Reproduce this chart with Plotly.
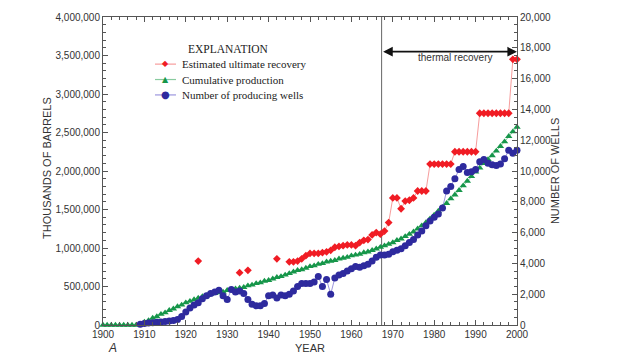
import plotly.graph_objects as go
from plotly.subplots import make_subplots

years = list(range(1900, 2001))

# Cumulative production, millions of thousand barrels
cum_prod_m = [0, 0, 0, 0, 0, 0, 0, 0, 0,
              0.01, 0.04, 0.06, 0.09, 0.11, 0.14, 0.16, 0.19, 0.21, 0.24, 0.26,
              0.29, 0.31, 0.33, 0.35, 0.37, 0.38, 0.40, 0.41, 0.42, 0.43,
              0.45, 0.46, 0.47, 0.48, 0.49, 0.51, 0.52, 0.54, 0.55, 0.57,
              0.58, 0.60, 0.62, 0.63, 0.65, 0.67, 0.69, 0.71, 0.72, 0.74,
              0.76, 0.77, 0.79, 0.80, 0.82, 0.83, 0.84, 0.86, 0.87, 0.88,
              0.90, 0.91, 0.92, 0.94, 0.95, 0.97, 0.99, 1.01, 1.03, 1.05,
              1.07, 1.10, 1.12, 1.15, 1.18, 1.21, 1.25, 1.29, 1.33, 1.38,
              1.43, 1.48, 1.53, 1.58, 1.64, 1.69, 1.75, 1.81, 1.87, 1.93,
              1.99, 2.04, 2.10, 2.15, 2.20, 2.26, 2.32, 2.38, 2.45, 2.51,
              2.57]

# Estimated ultimate recovery (millions of thousand barrels), None = no estimate
eur_m = [None] * 23 + [0.83] + [None] * 9 + [0.68, None, 0.71] + [None] * 6 + [0.86, None, None] + \
        [0.82, 0.82, 0.83, 0.86, 0.90,
         0.93, 0.93, 0.93, 0.94, 0.95, 0.97, 1.01, 1.02, 1.03, 1.04,
         1.04, 1.03, 1.07, 1.10, 1.11, 1.17, 1.20, 1.18, 1.22, 1.33,
         1.65, 1.65, 1.51, 1.61, 1.62, 1.65, 1.74, 1.74, 1.74, 2.09,
         2.09, 2.09, 2.09, 2.09, 2.09, 2.25, 2.25, 2.25, 2.25, 2.25,
         2.25, 2.75, 2.75, 2.75, 2.75, 2.75, 2.75, 2.75, 2.75, 3.45,
         3.45]

# Number of producing wells
wells = [None] * 9 + [
    50, 100, 130, 150, 180, 200, 230, 260, 300, 350, 550,
    850, 1100, 1300, 1450, 1700, 1900, 2050, 2150, 2250, 1900,
    1650, 2300, 2150, 2200, 2050, 1650, 1350, 1250, 1250, 1400,
    1900, 1950, 1750, 1950, 1900, 2000, 2200, 2500, 2700, 2700,
    2700, 2800, 3150, 2500, 2950, 2000, 3050, 3250, 3350, 3500,
    3650, 3800, 3750, 3850, 3950, 4150, 4400, 4550, 4550, 4600,
    4750, 4850, 4950, 5150, 5350, 5550, 5850, 6100, 6450, 6750,
    7000, 7200, 7600, 8700, 9000, 9500, 10100, 10300, 9900, 9950,
    10100, 10600, 10750, 10500, 10400, 10350, 10450, 10800, 11350, 11150,
    11350]

series_names = ["Estimated ultimate recovery", "Cumulative production", "Number of producing wells"]

cum_prod = [v * 1e6 for v in cum_prod_m]
eur = [None if v is None else v * 1e6 for v in eur_m]

thermal_start = 1967.3

RED, RED_L = "#f01c24", "rgba(240,90,90,0.6)"
GRN, GRN_L = "#16964a", "rgba(40,160,80,0.55)"
BLU, BLU_L = "#2e2a9e", "rgba(90,80,200,0.6)"

fig = make_subplots(specs=[[{"secondary_y": True}]])

fig.add_trace(go.Scatter(
    x=years, y=cum_prod, name=series_names[1], mode="lines+markers",
    line=dict(color=GRN_L, width=1),
    marker=dict(symbol="triangle-up", size=6.5, color=GRN),
    cliponaxis=False, showlegend=False), secondary_y=False)

fig.add_trace(go.Scatter(
    x=years, y=eur, name=series_names[0], mode="lines+markers",
    line=dict(color=RED_L, width=1),
    marker=dict(symbol="diamond", size=6, color=RED),
    connectgaps=False, cliponaxis=False, showlegend=False), secondary_y=False)

fig.add_trace(go.Scatter(
    x=years, y=wells, name=series_names[2], mode="lines+markers",
    line=dict(color=BLU_L, width=1),
    marker=dict(symbol="circle", size=7, color=BLU),
    cliponaxis=False, showlegend=False), secondary_y=True)

tick_font = dict(family="Liberation Sans, Arial", size=10, color="#333")
axis_line = "#555"

fig.update_xaxes(
    domain=[0, 1],
    range=[1900, 2000], tickmode="array", tickvals=list(range(1900, 2001, 10)),
    ticks="inside", ticklen=5, tickcolor=axis_line,
    minor=dict(tickmode="array", tickvals=list(range(1900, 2001, 2)), ticks="inside", ticklen=3, tickcolor=axis_line),
    showline=True, linecolor=axis_line, linewidth=1, mirror="ticks",
    showgrid=False, zeroline=False, tickfont=tick_font, automargin=False)

fig.update_yaxes(
    range=[0, 4e6], dtick=5e5, tick0=0, tickformat=",d",
    ticks="inside", ticklen=5, tickcolor=axis_line,
    minor=dict(dtick=1e5, tick0=0, ticks="inside", ticklen=3, tickcolor=axis_line),
    showline=True, linecolor=axis_line, linewidth=1,
    showgrid=False, zeroline=False, tickfont=tick_font, automargin=False, secondary_y=False)

fig.update_yaxes(
    range=[0, 20000], dtick=2000, tick0=0, tickformat=",d",
    ticks="inside", ticklen=5, tickcolor=axis_line,
    minor=dict(dtick=500, tick0=0, ticks="inside", ticklen=3, tickcolor=axis_line),
    showline=True, linecolor=axis_line, linewidth=1,
    showgrid=False, zeroline=False, tickfont=tick_font, automargin=False, secondary_y=True)

fig.add_shape(type="line", x0=thermal_start, x1=thermal_start, y0=0, y1=1,
              xref="x", yref="paper", line=dict(color="#666", width=1), layer="below")

fig.add_annotation(x=2000, y=3.55e6, ax=thermal_start, ay=3.55e6, xref="x", yref="y",
                   axref="x", ayref="y", text="", showarrow=True, arrowhead=2,
                   startarrowhead=2, arrowside="end+start", arrowwidth=1.6,
                   arrowsize=1.2, startarrowsize=1.2, arrowcolor="#111")
fig.add_annotation(x=1985, y=3.47e6, xref="x", yref="y", text="thermal recovery",
                   xanchor="center", yanchor="middle",
                   showarrow=False, font=dict(family="Liberation Sans, Arial", size=10, color="#333"))

title_font = dict(family="Liberation Sans, Arial", size=11, color="#333")
fig.add_annotation(x=-0.135, y=0.51, xref="paper", yref="paper", text="THOUSANDS OF BARRELS",
                   xanchor="center", yanchor="middle",
                   textangle=-90, showarrow=False, font=title_font)
fig.add_annotation(x=1.092, y=0.50, xref="paper", yref="paper", text="NUMBER OF WELLS",
                   xanchor="center", yanchor="middle",
                   textangle=-90, showarrow=False, font=title_font)
fig.add_annotation(x=0.5, y=-0.075, xref="paper", yref="paper", text="YEAR",
                   xanchor="center", yanchor="middle",
                   showarrow=False, font=title_font)
fig.add_annotation(x=0.024, y=-0.075, xref="paper", yref="paper", text="<i>A</i>",
                   xanchor="center", yanchor="middle",
                   showarrow=False, font=dict(family="Liberation Sans, Arial", size=12, color="#333"))

# Manual legend ("EXPLANATION")
serif = "Liberation Serif, Times New Roman"
fig.add_annotation(x=0.3043, y=0.896, xref="paper", yref="paper", text="EXPLANATION",
                   xanchor="center", yanchor="middle",
                   showarrow=False, font=dict(family=serif, size=11.5, color="#222"))
leg_rows = [(0.847, RED, RED_L, "◆", 8), (0.797, GRN, GRN_L, "▲", 8), (0.747, BLU, BLU_L, "●", 10)]
for (yy, c, cl, glyph, gs), name in zip(leg_rows, series_names):
    fig.add_shape(type="line", xref="paper", yref="paper", x0=0.1256, x1=0.1763, y0=yy, y1=yy,
                  line=dict(color=cl, width=1.2))
    fig.add_annotation(x=0.151, y=yy, xref="paper", yref="paper", text=glyph, showarrow=False,
                       xanchor="center", yanchor="middle",
                       font=dict(family="DejaVu Sans", size=gs, color=c), yshift=0.5)
    fig.add_annotation(x=0.186, y=yy, xref="paper", yref="paper", text=name, showarrow=False,
                       xanchor="left", yanchor="middle",
                       font=dict(family=serif, size=11, color="#222"))

fig.update_layout(
    width=620, height=359,
    margin=dict(l=103, r=103, t=17, b=34, autoexpand=False),
    plot_bgcolor="white", paper_bgcolor="white",
    showlegend=False,
)

fig.write_html("out.html", post_script="document.body.style.margin='0';",
               config={"displayModeBar": False})
